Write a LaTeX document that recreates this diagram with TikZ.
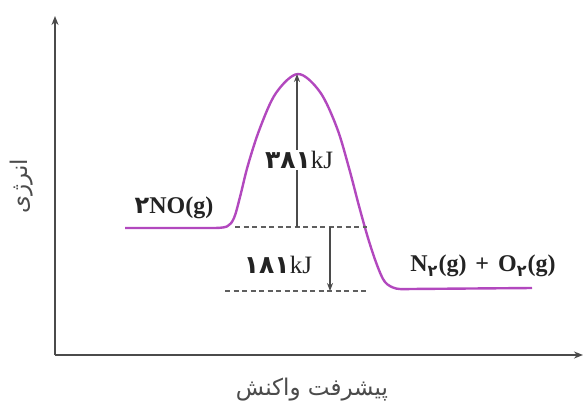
\documentclass[tikz,border=0pt]{standalone}
\usepackage{fontspec}
\setmainfont{Liberation Serif}
\newfontfamily\arabicfont[Script=Arabic]{DejaVu Sans}
\newfontfamily\pdigits{DejaVu Sans}
\TeXXeTstate=1
\usetikzlibrary{arrows.meta}
\definecolor{curvecol}{RGB}{178,72,190}
\definecolor{axiscol}{RGB}{75,75,75}
\definecolor{dashcol}{RGB}{95,95,95}
\definecolor{textcol}{RGB}{35,35,35}
\newcommand{\psub}[1]{\raisebox{-0.4ex}{\fontsize{16}{16}\selectfont\pdigits\bfseries #1}}
\tikzset{
  axisline/.style={draw=axiscol, line width=2.8pt, -{Stealth[length=9pt,width=7pt]}},
  energycurve/.style={draw=curvecol, line width=2.4pt, line join=round},
  levelline/.style={draw=dashcol, line width=1.3pt, dash pattern=on 5pt off 3.5pt},
  gaparrow/.style={draw=axiscol, line width=1.5pt, -{Stealth[length=8pt,width=6pt]}},
  chemlabel/.style={text=textcol, font=\fontsize{24}{26}\selectfont\bfseries, inner sep=0pt},
  kjlabel/.style={text=textcol, fill=white, inner sep=1pt, font=\fontsize{25}{28}\selectfont},
  axislabel/.style={text=axiscol, inner sep=0pt, font=\fontsize{23}{26}\selectfont\arabicfont}
}
\begin{document}
\begin{tikzpicture}[x=1pt,y=-1pt]
\useasboundingbox (0,0) rectangle (584,405);
% axes
\coordinate (origin) at (55,355);
\coordinate (ytop) at (55,16);
\coordinate (xend) at (583,355);
\draw[axisline] (origin) -- (ytop);
\draw[axisline] (origin) -- (xend);
% energy curve
\draw[energycurve] (125,228) -- (214,228)
  plot[smooth, tension=0.55] coordinates {(214,228) (227,226.5) (234,218) (240,197) (248,165) (260,128) (276,93) (298,74) (320,92) (337,128) (349,168) (359,206) (368,238) (377,265) (385,282) (396,288.5) (410,289)}
  -- (532,288);
% level lines
\coordinate (upL) at (235,227);
\coordinate (upR) at (367,227);
\coordinate (loL) at (225,291);
\coordinate (loR) at (368,291);
\draw[levelline] (upL) -- (upR);
\draw[levelline] (loL) -- (loR);
% arrows
\coordinate (eaBase) at (297,227);
\coordinate (peak) at (297,74);
\coordinate (dhTop) at (330,227);
\coordinate (dhBot) at (330,291);
\draw[gaparrow] (eaBase) -- (peak);
\draw[gaparrow] (dhTop) -- (dhBot);
% labels
\node[kjlabel] (ea) at (299,160) {{\pdigits\bfseries ۳۸۱}kJ};
\node[kjlabel, fill=none] (dh) at (278,265) {{\pdigits\bfseries ۱۸۱}kJ};
\node[chemlabel] (react) at (174,208) {{\pdigits ۲}NO(g)};
\node[chemlabel] (prod) at (483,266) {N\psub{۲}\hspace{1pt}(g)\hspace{9pt}+\hspace{9pt}O\psub{۲}\hspace{1pt}(g)};
\node[axislabel, rotate=90] (ylab) at (22,186) {\beginR انرژی\endR};
\node[axislabel] (xlab) at (312,390) {\beginR پیشرفت واکنش\endR};
\end{tikzpicture}
\end{document}
